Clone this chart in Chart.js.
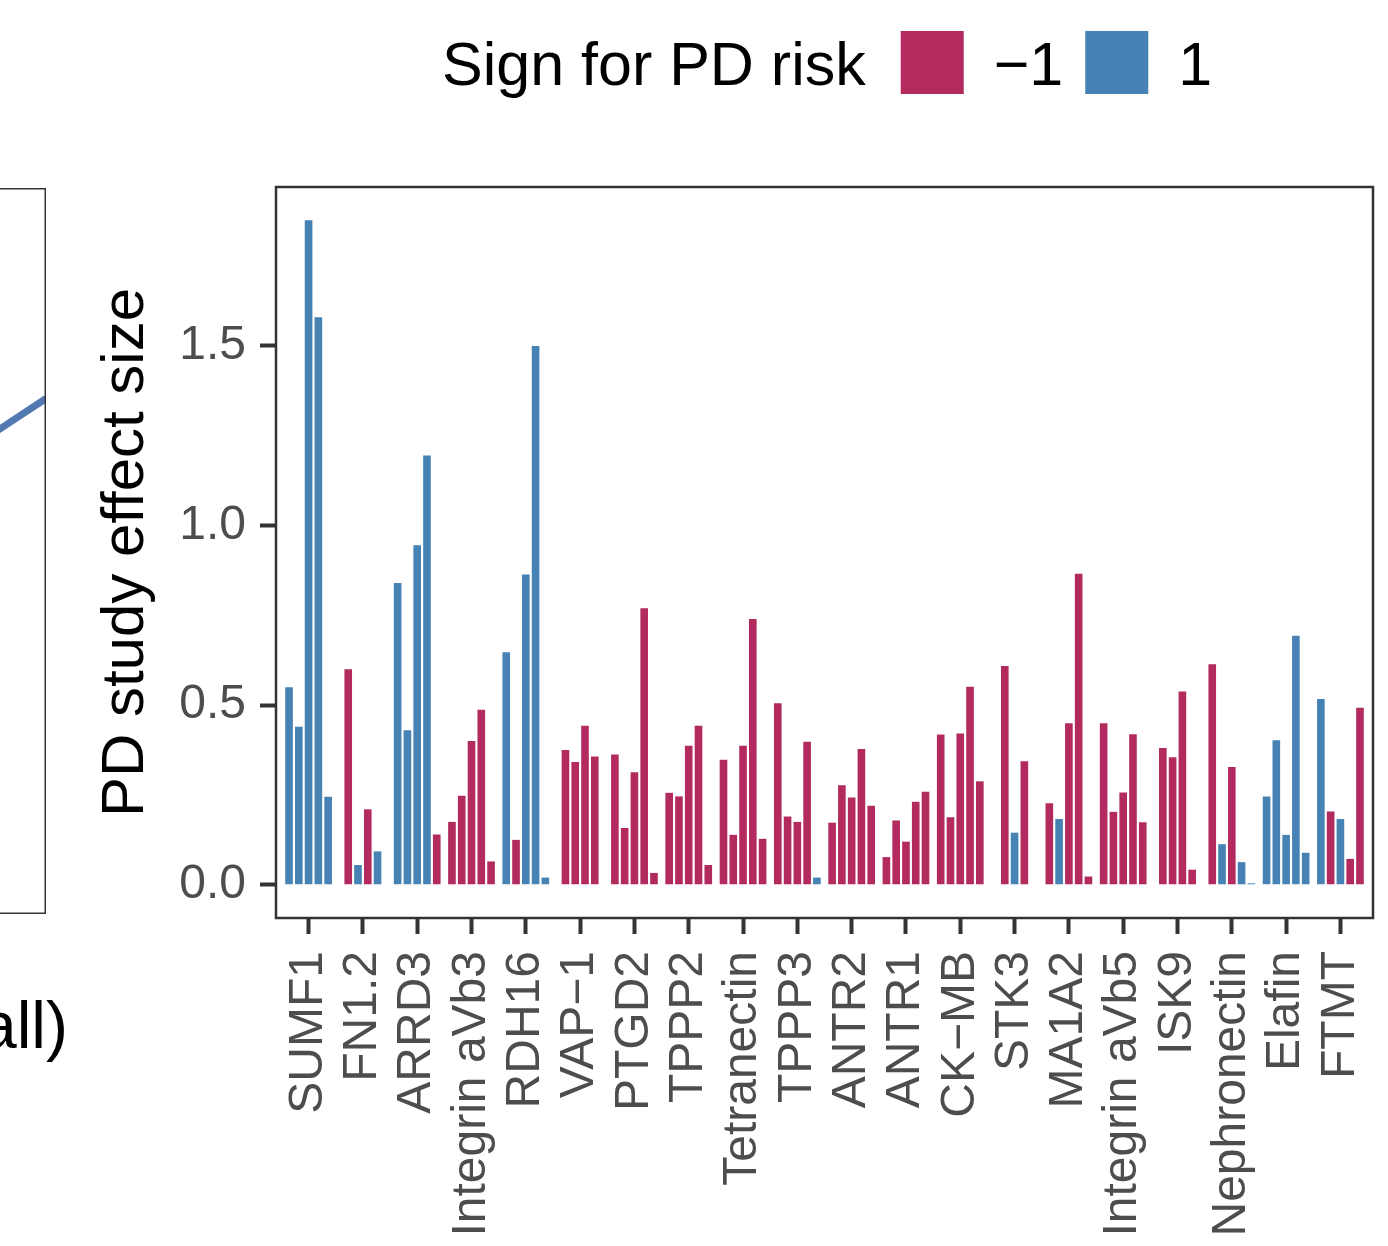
<!DOCTYPE html>
<html lang="en">
<head>
    <meta charset="UTF-8">
    <title>PD study effect size by protein</title>
    <script src="https://cdn.jsdelivr.net/npm/chart.js"></script>
    <style>
        html, body { margin: 0; padding: 0; background: #fff; }
        #wrap { position: relative; width: 1388px; height: 1246px; overflow: hidden; }
        #mainChart { position: absolute; left: 0; top: 0; }
        #sideChart { position: absolute; left: -20px; top: 188px; }
        #sideLabel {
            position: absolute; right: 1320px; top: 992px;
            font: 66px "Liberation Sans", Arial, sans-serif; line-height: 66px;
            color: #000; white-space: nowrap;
        }
    </style>
</head>
<body>
    <div id="wrap">
        <canvas id="sideChart" width="66" height="726"></canvas>
        <div id="sideLabel">all)</div>
        <canvas id="mainChart" width="1388" height="1246"></canvas>
    </div>
    <script>
        // proteins along the x axis
        const proteins = ['SUMF1', 'FN1.2', 'ARRD3', 'Integrin aVb3', 'RDH16', 'VAP\u22121', 'PTGD2',
            'TPPP2', 'Tetranectin', 'TPPP3', 'ANTR2', 'ANTR1', 'CK\u2212MB', 'STK3', 'MA1A2',
            'Integrin aVb5', 'ISK9', 'Nephronectin', 'Elafin', 'FTMT'];

        // effect size of each study, per protein (studies in plotting order)
        const effectSizes = [
            [0.55, 0.44, 1.85, 1.58, 0.245],
            [0.60, 0.055, 0.21, 0.093],
            [0.84, 0.43, 0.945, 1.195, 0.14],
            [0.175, 0.248, 0.40, 0.487, 0.065],
            [0.647, 0.125, 0.864, 1.50, 0.02],
            [0.375, 0.342, 0.443, 0.357],
            [0.363, 0.158, 0.313, 0.77, 0.033],
            [0.256, 0.246, 0.387, 0.443, 0.055],
            [0.348, 0.139, 0.387, 0.74, 0.128],
            [0.505, 0.19, 0.175, 0.398, 0.02],
            [0.173, 0.277, 0.243, 0.378, 0.22],
            [0.077, 0.179, 0.12, 0.231, 0.259],
            [0.418, 0.188, 0.421, 0.551, 0.288],
            [0.609, 0.145, 0.344],
            [0.227, 0.183, 0.45, 0.866, 0.023],
            [0.45, 0.203, 0.257, 0.419, 0.174],
            [0.381, 0.355, 0.538, 0.042],
            [0.614, 0.113, 0.328, 0.063, 0.004],
            [0.246, 0.402, 0.139, 0.693, 0.089],
            [0.517, 0.204, 0.183, 0.072, 0.493]
        ];

        // sign for PD risk of each bar above
        const riskSigns = [
            [1, 1, 1, 1, 1],
            [-1, 1, -1, 1],
            [1, 1, 1, 1, -1],
            [-1, -1, -1, -1, -1],
            [1, -1, 1, 1, 1],
            [-1, -1, -1, -1],
            [-1, -1, -1, -1, -1],
            [-1, -1, -1, -1, -1],
            [-1, -1, -1, -1, -1],
            [-1, -1, -1, -1, 1],
            [-1, -1, -1, -1, -1],
            [-1, -1, -1, -1, -1],
            [-1, -1, -1, -1, -1],
            [-1, 1, -1],
            [-1, 1, -1, -1, -1],
            [-1, -1, -1, -1, -1],
            [-1, -1, -1, -1],
            [-1, 1, -1, 1, 1],
            [1, 1, 1, 1, 1],
            [1, -1, 1, -1, -1]
        ];

        const yTicks = [0, 0.5, 1.0, 1.5];
        const signValues = [-1, 1];
        const signLabels = ['\u22121', '1'];

        // piece of the neighbouring panel that is cut off on the left
        const sidePanelX = [0, 1];
        const sidePanelY = [0.65, 0.71];

        const signColors = { '-1': '#B32A5E', '1': '#4682B4' };
        const FONT = '"Liberation Sans", Arial, sans-serif';
        Chart.defaults.font.family = FONT;

        // dodge the studies side by side around each protein
        const maxStudies = Math.max(...effectSizes.map(a => a.length));
        const slot = 0.9 / maxStudies;
        const bars = [];
        const barColors = [];
        effectSizes.forEach((vals, i) => {
            vals.forEach((v, j) => {
                bars.push({ x: i + (j - (vals.length - 1) / 2) * slot, y: v });
                barColors.push(signColors[riskSigns[i][j]]);
            });
        });

        const yTop = Math.max(...bars.map(b => b.y));
        const yMin = -yTop * 0.05;
        const yMax = yTop * 1.05;

        const panelBorder = {
            id: 'panelBorder',
            afterDatasetsDraw(chart, args, opts) {
                const { ctx, chartArea: a } = chart;
                const inset = opts.inset ? opts.width / 2 : 0;
                ctx.save();
                ctx.strokeStyle = opts.color;
                ctx.lineWidth = opts.width;
                ctx.strokeRect(a.left + inset, a.top + inset,
                    a.right - a.left - 2 * inset, a.bottom - a.top - 2 * inset);
                ctx.restore();
            }
        };

        // legend in one row: title, then key + label for each sign
        const signLegend = {
            id: 'signLegend',
            afterDraw(chart) {
                const ctx = chart.ctx;
                const box = 63, boxTop = 31, base = 85;
                let x = 442;
                ctx.save();
                ctx.font = '61px ' + FONT;
                ctx.fillStyle = '#000';
                ctx.fillText('Sign for PD risk', x, base);
                x += ctx.measureText('Sign for PD risk').width + 35;
                signValues.forEach((s, k) => {
                    ctx.fillStyle = signColors[s];
                    ctx.fillRect(x, boxTop, box, box);
                    x += box + 30;
                    ctx.fillStyle = '#000';
                    ctx.fillText(signLabels[k], x, base);
                    x += ctx.measureText(signLabels[k]).width + 22;
                });
                ctx.restore();
            }
        };

        const axisGrid = {
            display: true, drawOnChartArea: false, offset: false,
            tickLength: 16, tickWidth: 4, tickColor: '#333333'
        };

        new Chart(document.getElementById('mainChart'), {
            type: 'bar',
            data: {
                datasets: [{
                    data: bars,
                    backgroundColor: barColors,
                    borderWidth: 0,
                    barPercentage: 0.78,
                    categoryPercentage: 1
                }]
            },
            options: {
                responsive: false,
                animation: false,
                layout: { padding: { top: 187, right: 15, left: 0, bottom: 0 } },
                plugins: {
                    legend: { display: false },
                    tooltip: { enabled: false },
                    panelBorder: { color: '#333333', width: 2.5 }
                },
                scales: {
                    x: {
                        type: 'linear',
                        min: -0.6,
                        max: proteins.length - 0.4,
                        offset: false,
                        grid: axisGrid,
                        border: { display: false },
                        afterBuildTicks: s => { s.ticks = proteins.map((p, i) => ({ value: i })); },
                        afterFit: s => {
                            s.height = 1246 - 918;
                            s.paddingLeft = 0;
                            s.paddingRight = 0;
                        },
                        ticks: {
                            autoSkip: false, minRotation: 90, maxRotation: 90, padding: 17,
                            color: '#4d4d4d', font: { size: 48 },
                            callback: v => proteins[v]
                        }
                    },
                    y: {
                        min: yMin,
                        max: yMax,
                        grid: axisGrid,
                        border: { display: false },
                        afterBuildTicks: s => { s.ticks = yTicks.map(v => ({ value: v })); },
                        afterFit: s => {
                            s.width = 276;
                            s.paddingTop = 0;
                            s.paddingBottom = 0;
                        },
                        ticks: {
                            padding: 14, color: '#4d4d4d', font: { size: 48 },
                            callback: v => v.toFixed(1)
                        },
                        title: {
                            display: true,
                            text: 'PD study effect size',
                            color: '#000',
                            font: { size: 60, lineHeight: 1.2 },
                            padding: { top: 90, bottom: 0 }
                        }
                    }
                }
            },
            plugins: [panelBorder, signLegend]
        });

        new Chart(document.getElementById('sideChart'), {
            type: 'line',
            data: {
                datasets: [{
                    data: sidePanelX.map((x, i) => ({ x: x, y: sidePanelY[i] })),
                    borderColor: '#5279b2',
                    borderWidth: 7,
                    pointRadius: 0,
                    fill: false
                }]
            },
            options: {
                responsive: false,
                animation: false,
                layout: { padding: 0 },
                plugins: {
                    legend: { display: false },
                    tooltip: { enabled: false },
                    panelBorder: { color: '#333333', width: 1.5, inset: true }
                },
                scales: {
                    x: { type: 'linear', display: false, min: 0, max: 1 },
                    y: { display: false, min: 0, max: 1 }
                }
            },
            plugins: [panelBorder]
        });
    </script>
</body>
</html>
